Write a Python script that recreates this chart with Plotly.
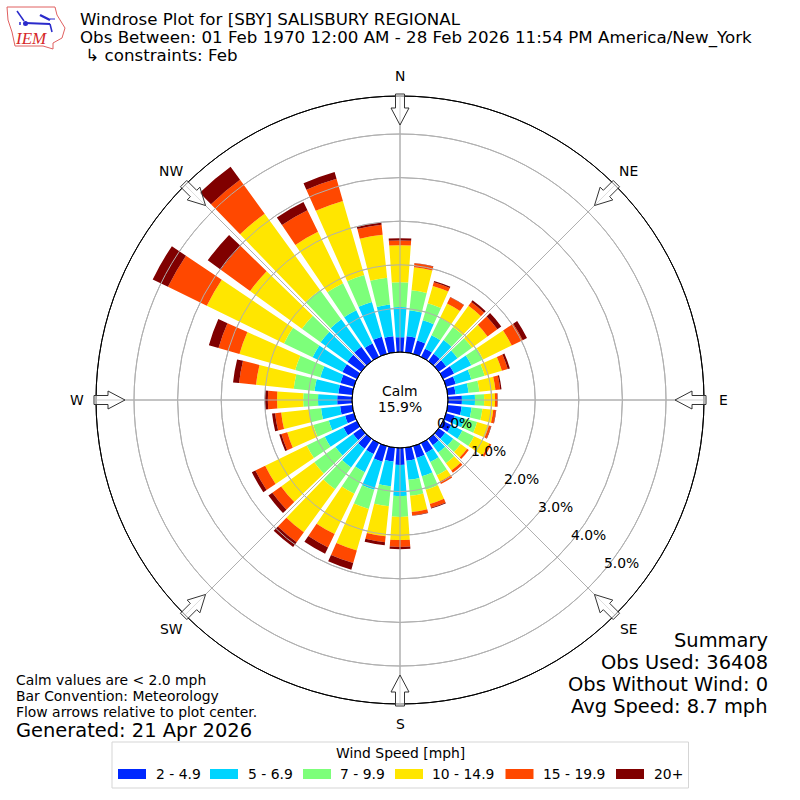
import math
import plotly.graph_objects as go

directions = list(range(0, 360, 10))
speed_bins = ["2 - 4.9", "5 - 6.9", "7 - 9.9", "10 - 14.9", "15 - 19.9", "20+"]
bin_colors = ["#0028ff", "#00d4ff", "#7dff7a", "#ffe600", "#ff4800", "#800000"]

pct_2_5 = [.34,.37,.32,.21,.21,.21,.28,.23,.18,.32,.32,.21,.21,.18,.18,.25,.28,.30,
           .39,.32,.37,.28,.28,.23,.34,.21,.28,.34,.32,.32,.37,.39,.41,.34,.41,.37]
pct_5_7 = [.69,.60,.48,.34,.39,.32,.44,.37,.30,.30,.23,.23,.28,.23,.21,.23,.44,.44,
           .71,.57,.67,.46,.53,.50,.48,.39,.44,.44,.55,.48,.76,.76,.78,.85,.83,.73]
pct_7_10 = [.57,.46,.41,.44,.37,.41,.30,.32,.25,.21,.25,.30,.30,.21,.30,.34,.32,.37,
            .48,.46,.46,.55,.62,.60,.46,.37,.28,.34,.48,.60,.73,.53,.83,.69,.64,.62]
pct_10_15 = [.85,.53,.41,.37,.60,.44,.73,.41,.37,.25,.25,.28,.39,.18,.21,.16,.34,.37,
             .53,.69,.99,1.03,1.22,.94,1.06,.62,.64,.60,.87,1.33,1.97,1.47,2.16,1.31,1.77,.99]
pct_15_20 = [.11,.09,.09,.16,.11,.28,.28,.14,.11,.05,.06,.05,.05,.05,.06,.06,.09,.08,
             .16,.14,.30,.34,.28,.25,.25,.14,.14,.21,.39,.50,.99,.83,.96,.55,.53,.23]
pct_20_up = [.05,.01,.03,.01,.05,.11,.11,.05,.03,.01,.01,.01,.00,.00,.00,.00,.02,.01,
             .05,.07,.16,.16,.14,.11,.09,.05,.07,.07,.14,.23,.39,.37,.37,.21,.16,.05]
series = [pct_2_5, pct_5_7, pct_7_10, pct_10_15, pct_15_20, pct_20_up]

radial_ticks = [0, 1, 2, 3, 4, 5]
compass_labels = ["N", "NE", "E", "SE", "S", "SW", "W", "NW"]
compass_angles = [0, 45, 90, 135, 180, 225, 270, 315]

title_lines = ["Windrose Plot for [SBY] SALISBURY REGIONAL",
               "Obs Between: 01 Feb 1970 12:00 AM - 28 Feb 2026 11:54 PM America/New_York",
               " \u21b3 constraints: Feb"]
summary_lines = ["Summary", "Obs Used: 36408", "Obs Without Wind: 0", "Avg Speed: 8.7 mph"]
note_lines = ["Calm values are < 2.0 mph", "Bar Convention: Meteorology",
              "Flow arrows relative to plot center."]

FONT = "DejaVu Sans"
CX, CY, R_OUT, R_HOLE = 400, 400, 304, 48
PX_PER_PCT = 43.6
RMAX = (R_OUT - R_HOLE) / PX_PER_PCT
GRID = "#b0b0b0"


def px(x):
    return x / 800


def py(y):
    return 1 - y / 800


def poly(points, **kw):
    d = "M" + " L".join(f"{px(a):.5f},{py(b):.5f}" for a, b in points) + " Z"
    return dict(type="path", xref="paper", yref="paper", path=d, **kw)


def seg(x0, y0, x1, y1, color, width):
    return dict(type="line", xref="paper", yref="paper", x0=px(x0), y0=py(y0), x1=px(x1), y1=py(y1),
                line=dict(color=color, width=width))


def circ(r, color, width):
    return dict(type="circle", xref="paper", yref="paper", x0=px(CX - r), x1=px(CX + r),
                y0=py(CY + r), y1=py(CY - r), line=dict(color=color, width=width))


def text(x, y, s, size, anchor="left", color="black", family=FONT):
    nudge = {"left": -1, "right": 1, "center": 0}[anchor]
    return dict(xref="paper", yref="paper", x=px(x + nudge), y=py(y), text=s, showarrow=False,
                xanchor=anchor, yanchor="middle", align=anchor,
                font=dict(family=family, size=size, color=color), borderpad=0)


fig = go.Figure()
for name, color, values in zip(speed_bins, bin_colors, series):
    fig.add_trace(go.Barpolar(r=values, theta=directions, width=8, name=name,
                              marker=dict(color=color, line=dict(width=0)), showlegend=False))

shapes = []
# grid above the bars
for k in radial_ticks[1:]:
    shapes.append(circ(R_HOLE + k * PX_PER_PCT, GRID, 1))
for a in compass_angles:
    t = math.radians(a)
    shapes.append(seg(CX + R_HOLE * math.sin(t), CY - R_HOLE * math.cos(t),
                      CX + R_OUT * math.sin(t), CY - R_OUT * math.cos(t), GRID, 1))
shapes.append(circ(R_HOLE, "black", 1))
shapes.append(circ(R_OUT, "black", 1))
# flow arrows
outline = [(-2, 4.5), (12, 4.5), (12, 9), (29, 0), (12, -9), (12, -4.5), (-2, -4.5)]
for a in compass_angles:
    t = math.radians(a)
    ux, uy = -math.sin(t), math.cos(t)
    vx, vy = math.cos(t), math.sin(t)
    ox, oy = CX + R_OUT * math.sin(t), CY - R_OUT * math.cos(t)
    pts = [(ox + s * ux + w * vx, oy + s * uy + w * vy) for s, w in outline]
    shapes.append(poly(pts, line=dict(color="#333333", width=1), fillcolor="rgba(255,255,255,0.6)"))

# legend box
shapes.append(dict(type="rect", xref="paper", yref="paper", x0=px(112), x1=px(688.5), y0=py(788), y1=py(742),
                   line=dict(color="#d5d5d5", width=1), fillcolor="white"))
swatch_x = [118, 210, 303, 395, 505.5, 616]
label_x = [155.5, 247.7, 340, 432, 543, 654]
for x, c in zip(swatch_x, bin_colors):
    shapes.append(dict(type="rect", xref="paper", yref="paper", x0=px(x), x1=px(x + 28), y0=py(779), y1=py(769),
                       line=dict(width=0), fillcolor=c))

# logo
shapes.append(poly([(7, 7), (55, 7), (57, 15), (65, 28), (62, 38), (53, 43), (53, 49), (43, 46), (15, 46), (12, 32), (8, 20)],
                   line=dict(color="#e06060", width=1), fillcolor="white"))
for x0, y0, x1, y1, w in [(25, 23, 50, 24, 2), (17, 11, 24, 21, 1.5), (40, 15, 50, 20, 2.5),
                          (50, 19, 55, 19, 1), (50, 24, 52, 32, 1.5), (20, 22, 20, 25, 1.5)]:
    shapes.append(seg(x0, y0, x1, y1, "#2a2acb", w))
shapes.append(dict(type="circle", xref="paper", yref="paper", x0=px(23), x1=px(28), y0=py(26), y1=py(21),
                   line=dict(width=0), fillcolor="#2a2acb"))

annotations = []
for i, s in enumerate(title_lines):
    annotations.append(text(80, 19.5 + i * 18, s, 16.67))
annotations.append(text(31, 39, "<i>IEM</i>", 17, anchor="center", color="#d62728", family="Liberation Serif"))
annotations.append(text(400, 391, "Calm", 13.9, anchor="center"))
annotations.append(text(400, 407, "15.9%", 13.9, anchor="center"))
for i, s in enumerate(summary_lines):
    annotations.append(text(768, 640 + i * 22, s, 19.44, anchor="right"))
for i, s in enumerate(note_lines):
    annotations.append(text(16, 680 + i * 16, s, 13.9, anchor="left"))
annotations.append(text(16, 730, "Generated: 21 Apr 2026", 19.44))
annotations.append(text(400, 753, "Wind Speed [mph]", 13.9, anchor="center"))
for x, s in zip(label_x, speed_bins):
    annotations.append(text(x, 774, s, 13.9))
tick_dir = math.radians(130)
for k in radial_ticks:
    rp = R_HOLE + k * PX_PER_PCT
    annotations.append(text(CX + rp * math.sin(tick_dir) + 18.2, CY - rp * math.cos(tick_dir) - 8,
                            f"{k:.1f}%", 13.9, anchor="center"))
for a, s in zip(compass_angles, compass_labels):
    t = math.radians(a)
    annotations.append(text(CX + 323.5 * math.sin(t), CY - 323.5 * math.cos(t), s, 13.9, anchor="center"))

fig.update_layout(
    width=800, height=800, autosize=False, margin=dict(l=0, r=0, t=0, b=0),
    paper_bgcolor="white", showlegend=False, shapes=shapes, annotations=annotations,
    font=dict(family=FONT, size=14, color="black"),
    polar=dict(
        domain=dict(x=[px(CX - R_OUT), px(CX + R_OUT)], y=[py(CY + R_OUT), py(CY - R_OUT)]),
        hole=R_HOLE / R_OUT, bgcolor="white", barmode="stack",
        angularaxis=dict(direction="clockwise", rotation=90, tickmode="array", tickvals=compass_angles,
                         showticklabels=False, ticks="", showline=True, linecolor="black", gridcolor=GRID),
        radialaxis=dict(range=[0, RMAX], angle=-40, tickmode="array", tickvals=radial_ticks,
                        showticklabels=False, showline=False, ticks="", gridcolor=GRID),
    ),
)
fig.write_html("out.html", config={"displayModeBar": False}, post_script="document.body.style.margin='0';")
